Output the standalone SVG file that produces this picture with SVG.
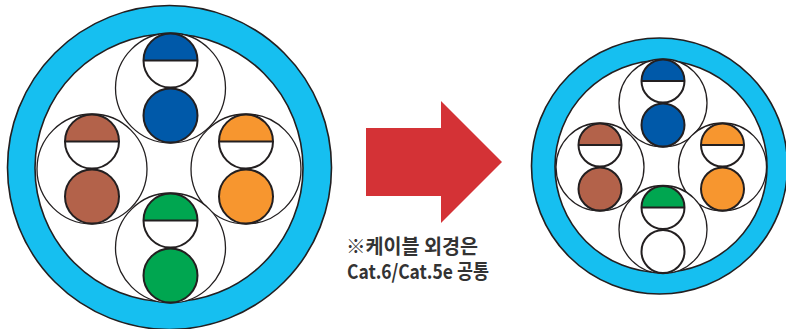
<svg xmlns="http://www.w3.org/2000/svg" width="786" height="329" viewBox="0 0 786 329">
<style>
.jacket{fill:#16bff0;stroke:#231f20;stroke-width:1.6}
.core{fill:#ffffff;stroke:#231f20;stroke-width:1.6}
.pair{fill:#ffffff;stroke:#231f20;stroke-width:1.3}
.wire{stroke:#231f20;stroke-width:2}
.blank{fill:#ffffff}
.blue{fill:#0059a9}
.brown{fill:#b3624a}
.orange{fill:#f7962f}
.green{fill:#00a650}
.line{stroke:#231f20;stroke-width:2}
.note{font-family:"Noto Sans CJK KR","Noto Sans",sans-serif;font-weight:bold;font-size:20px;fill:#333333}
</style>
<rect width="786" height="329" fill="#ffffff"/>
<g id="cable-left">
  <circle class="jacket" cx="169.5" cy="167.5" r="162"/>
  <circle class="core" cx="169" cy="168" r="134"/>
  <g id="left-pair-blue" transform="translate(170.5,88)">
    <circle class="pair" r="55"/>
    <circle class="blank" cy="-27.5" r="27"/>
    <path class="blue" d="M-27,-27.5 A27,27 0 0 1 27,-27.5 Z"/>
    <circle class="wire" fill="none" cy="-27.5" r="27"/>
    <line class="line" x1="-27" y1="-27.5" x2="27" y2="-27.5"/>
    <circle class="wire blue" cy="27.5" r="27"/>
  </g>
  <g id="left-pair-brown" transform="translate(92,169)">
    <circle class="pair" r="55"/>
    <circle class="blank" cy="-27.5" r="27"/>
    <path class="brown" d="M-27,-27.5 A27,27 0 0 1 27,-27.5 Z"/>
    <circle class="wire" fill="none" cy="-27.5" r="27"/>
    <line class="line" x1="-27" y1="-27.5" x2="27" y2="-27.5"/>
    <circle class="wire brown" cy="27.5" r="27"/>
  </g>
  <g id="left-pair-orange" transform="translate(246,169)">
    <circle class="pair" r="55"/>
    <circle class="blank" cy="-27.5" r="27"/>
    <path class="orange" d="M-27,-27.5 A27,27 0 0 1 27,-27.5 Z"/>
    <circle class="wire" fill="none" cy="-27.5" r="27"/>
    <line class="line" x1="-27" y1="-27.5" x2="27" y2="-27.5"/>
    <circle class="wire orange" cy="27.5" r="27"/>
  </g>
  <g id="left-pair-green" transform="translate(170.5,248)">
    <circle class="pair" r="55"/>
    <circle class="blank" cy="-27.5" r="27"/>
    <path class="green" d="M-27,-27.5 A27,27 0 0 1 27,-27.5 Z"/>
    <circle class="wire" fill="none" cy="-27.5" r="27"/>
    <line class="line" x1="-27" y1="-27.5" x2="27" y2="-27.5"/>
    <circle class="wire green" cy="27.5" r="27"/>
  </g>
</g>
<g id="connectors">
  <polygon id="arrow" fill="#d43236" points="366,128 441,128 441,101 502,162 441,223 441,196 366,196"/>
</g>
<g id="note">
  <text class="note" x="346" y="254" textLength="132" lengthAdjust="spacingAndGlyphs">※케이블 외경은</text>
  <text class="note" x="347" y="278.5" textLength="142" lengthAdjust="spacingAndGlyphs">Cat.6/Cat.5e 공통</text>
</g>
<g id="cable-right">
  <circle class="jacket" cx="659.5" cy="166" r="128"/>
  <circle class="core" cx="661" cy="166.5" r="106"/>
  <g id="right-pair-blue" transform="translate(663,103)">
    <circle class="pair" r="44"/>
    <circle class="blank" cy="-22" r="21.5"/>
    <path class="blue" d="M-21.5,-22 A21.5,21.5 0 0 1 21.5,-22 Z"/>
    <circle class="wire" fill="none" cy="-22" r="21.5"/>
    <line class="line" x1="-21.5" y1="-22" x2="21.5" y2="-22"/>
    <circle class="wire blue" cy="22" r="21.5"/>
  </g>
  <g id="right-pair-brown" transform="translate(600,167)">
    <circle class="pair" r="44"/>
    <circle class="blank" cy="-22" r="21.5"/>
    <path class="brown" d="M-21.5,-22 A21.5,21.5 0 0 1 21.5,-22 Z"/>
    <circle class="wire" fill="none" cy="-22" r="21.5"/>
    <line class="line" x1="-21.5" y1="-22" x2="21.5" y2="-22"/>
    <circle class="wire brown" cy="22" r="21.5"/>
  </g>
  <g id="right-pair-orange" transform="translate(722.5,167)">
    <circle class="pair" r="44"/>
    <circle class="blank" cy="-22" r="21.5"/>
    <path class="orange" d="M-21.5,-22 A21.5,21.5 0 0 1 21.5,-22 Z"/>
    <circle class="wire" fill="none" cy="-22" r="21.5"/>
    <line class="line" x1="-21.5" y1="-22" x2="21.5" y2="-22"/>
    <circle class="wire orange" cy="22" r="21.5"/>
  </g>
  <g id="right-pair-green" transform="translate(663,229.5)">
    <circle class="pair" r="44"/>
    <circle class="blank" cy="-22" r="21.5"/>
    <path class="green" d="M-21.5,-22 A21.5,21.5 0 0 1 21.5,-22 Z"/>
    <circle class="wire" fill="none" cy="-22" r="21.5"/>
    <line class="line" x1="-21.5" y1="-22" x2="21.5" y2="-22"/>
    <circle class="wire blank" cy="22" r="21.5"/>
  </g>
</g>
</svg>
